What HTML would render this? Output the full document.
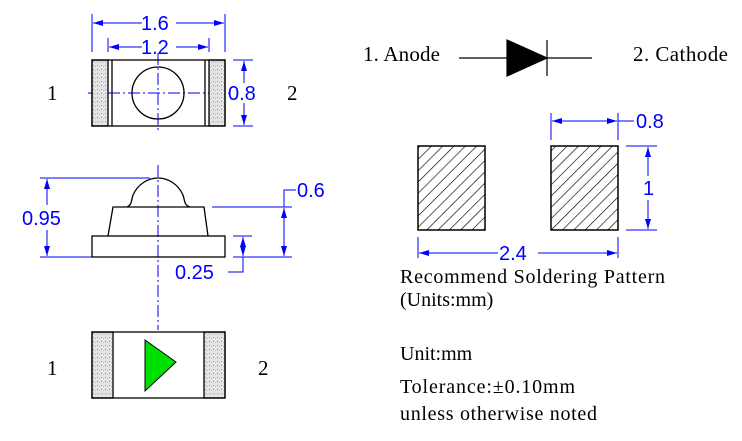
<!DOCTYPE html>
<html><head><meta charset="utf-8"><style>
html,body{margin:0;padding:0;background:#fff;}
svg{display:block}
.s{font-family:"Liberation Serif",serif;fill:#000}
.d{font-family:"Liberation Sans",sans-serif;fill:#0000ff;font-size:20px}
</style></head><body>
<svg width="742" height="441" viewBox="0 0 742 441" xmlns="http://www.w3.org/2000/svg">
<defs>
<pattern id="dots" width="4" height="4" patternUnits="userSpaceOnUse">
<rect width="4" height="4" fill="#e4e4e4"/><rect x="1" y="1" width="1" height="1" fill="#999"/><rect x="3" y="2" width="1" height="1" fill="#bbb"/>
</pattern>
<pattern id="hatch" width="8" height="8" patternUnits="userSpaceOnUse" patternTransform="rotate(45)">
<line x1="0" y1="0" x2="0" y2="8" stroke="#000" stroke-width="1.3"/>
</pattern>
<marker id="a" viewBox="0 0 10 6" refX="10" refY="3" markerWidth="14" markerHeight="6" markerUnits="userSpaceOnUse" orient="auto-start-reverse"><path d="M0,0L10,3L0,6z" fill="#0000ff"/></marker>
</defs>
<g stroke="#0000ff" stroke-width="1" fill="none">
<line x1="92" y1="14" x2="92" y2="52"/><line x1="225" y1="14" x2="225" y2="52"/>
<line x1="93" y1="23" x2="142" y2="23" marker-start="url(#a)"/><line x1="176" y1="23" x2="224" y2="23" marker-end="url(#a)"/>
<line x1="108" y1="38" x2="108" y2="52"/><line x1="209" y1="38" x2="209" y2="52"/>
<line x1="109" y1="47" x2="142" y2="47" marker-start="url(#a)"/><line x1="176" y1="47" x2="208" y2="47" marker-end="url(#a)"/>
<line x1="233" y1="60" x2="253" y2="60"/><line x1="233" y1="126" x2="253" y2="126"/>
<line x1="244" y1="61" x2="244" y2="83" marker-start="url(#a)"/><line x1="244" y1="103" x2="244" y2="125" marker-end="url(#a)"/>
<line x1="88" y1="93" x2="230" y2="93" stroke-dasharray="12,3,2,3"/>
<line x1="158" y1="53" x2="158" y2="132" stroke-dasharray="12,3,2,3"/>
<line x1="40" y1="178" x2="150" y2="178"/><line x1="40" y1="257" x2="92" y2="257"/>
<line x1="47" y1="179" x2="47" y2="205" marker-start="url(#a)"/><line x1="47" y1="230" x2="47" y2="256" marker-end="url(#a)"/>
<line x1="158" y1="165" x2="158" y2="330" stroke-dasharray="12,3,2,3"/>
<line x1="212" y1="207" x2="292" y2="207"/><line x1="233" y1="257" x2="292" y2="257"/>
<line x1="284" y1="208" x2="284" y2="256" marker-start="url(#a)" marker-end="url(#a)"/>
<polyline points="284,207 284,190 296,190"/>
<line x1="233" y1="236" x2="252" y2="236"/>
<line x1="243" y1="237" x2="243" y2="256" marker-start="url(#a)" marker-end="url(#a)"/>
<polyline points="243,257 243,272 228,272"/>
<line x1="551" y1="113" x2="551" y2="140"/><line x1="618" y1="113" x2="618" y2="140"/>
<line x1="552" y1="121" x2="617" y2="121" marker-start="url(#a)" marker-end="url(#a)"/>
<line x1="618" y1="121" x2="634" y2="121"/>
<line x1="626" y1="146" x2="657" y2="146"/><line x1="626" y1="230" x2="657" y2="230"/>
<line x1="648" y1="147" x2="648" y2="176" marker-start="url(#a)"/><line x1="648" y1="200" x2="648" y2="229" marker-end="url(#a)"/>
<line x1="418" y1="237" x2="418" y2="258"/><line x1="618" y1="237" x2="618" y2="258"/>
<line x1="419" y1="253" x2="498" y2="253" marker-start="url(#a)"/><line x1="538" y1="253" x2="617" y2="253" marker-end="url(#a)"/>
</g>
<g class="d">
<text x="141" y="30">1.6</text><text x="141" y="54">1.2</text>
<text x="228" y="100">0.8</text>
<text x="22" y="225">0.95</text>
<text x="297" y="197">0.6</text>
<text x="175" y="279">0.25</text>
<text x="636" y="128">0.8</text>
<text x="643" y="195">1</text>
<text x="499" y="260">2.4</text>
</g>
<g stroke="#000" stroke-width="1.3">
<rect x="92" y="60" width="16" height="66" fill="url(#dots)"/>
<rect x="209" y="60" width="16" height="66" fill="url(#dots)"/>
<rect x="92" y="60" width="133" height="66" fill="none"/>
<line x1="112" y1="60" x2="112" y2="126"/><line x1="205" y1="60" x2="205" y2="126"/>
<circle cx="158" cy="93" r="26" fill="none"/>
</g>
<g stroke="#000" stroke-width="1.3" fill="none">
<rect x="92" y="236" width="133" height="21"/>
<polyline points="108,236 113,207 204,207 208,236"/>
<path d="M127,207 C132,205 131,201 133,195 C138,184 148,178 158,178 C168,178 178,184 183,195 C185,201 184,205 190,207"/>
</g>
<g stroke="#000" stroke-width="1.3">
<rect x="92" y="332" width="21" height="66" fill="url(#dots)"/>
<rect x="204" y="332" width="21" height="66" fill="url(#dots)"/>
<rect x="92" y="332" width="133" height="66" fill="none"/>
<polygon points="145,340 176,362 145,391" fill="#00e000" stroke-width="1"/>
</g>
<g class="s" font-size="21">
<text x="47" y="100">1</text><text x="287" y="100">2</text>
<text x="47" y="375">1</text><text x="258" y="375">2</text>
</g>
<g stroke="#000" stroke-width="1.2">
<line x1="459" y1="58" x2="507" y2="58"/><line x1="547" y1="58" x2="592" y2="58"/>
<polygon points="507,40 547,58 507,76" fill="#000"/>
<line x1="547" y1="40" x2="547" y2="76"/>
</g>
<rect x="418" y="146" width="67" height="84" fill="url(#hatch)" stroke="#000" stroke-width="1.5"/>
<rect x="551" y="146" width="67" height="84" fill="url(#hatch)" stroke="#000" stroke-width="1.5"/>
<g class="s" font-size="20">
<text x="363" y="61" textLength="77" font-size="21">1. Anode</text>
<text x="633" y="61" textLength="95" font-size="21">2. Cathode</text>
<text x="400" y="283" textLength="265">Recommend Soldering Pattern</text>
<text x="400" y="306">(Units:mm)</text>
<text x="400" y="360">Unit:mm</text>
<text x="400" y="393" textLength="175">Tolerance:±0.10mm</text>
<text x="400" y="420" textLength="197">unless otherwise noted</text>
</g>
</svg>
</body></html>
